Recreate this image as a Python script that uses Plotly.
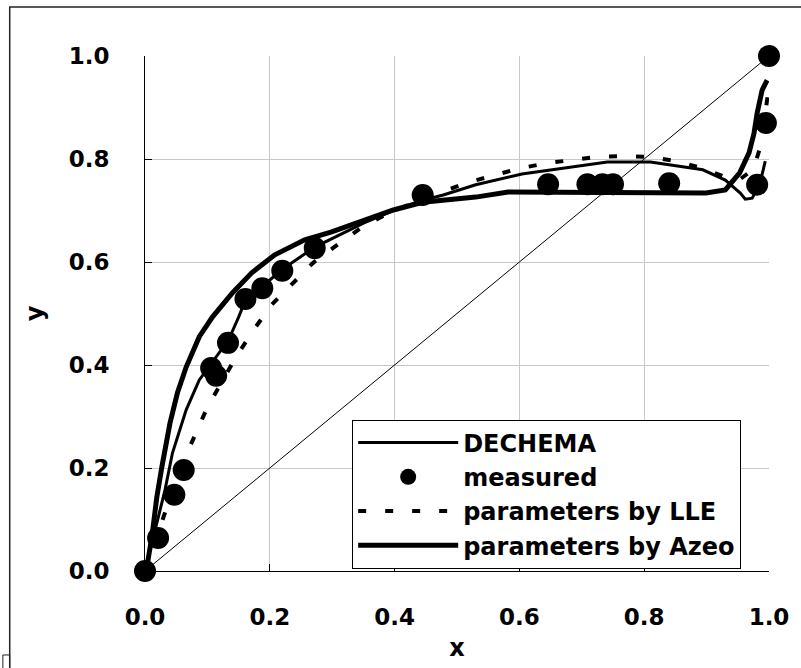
import plotly.graph_objects as go

# Diagonal reference line y = x
diag_x = [0.0, 1.0]
diag_y = [0.0, 1.0]

# Model curve from the DECHEMA parameter set
dechema_x = [0, 0.016, 0.032, 0.044, 0.066, 0.087, 0.111, 0.134, 0.150, 0.161, 0.187, 0.218,
             0.272, 0.351, 0.398, 0.445, 0.478, 0.530, 0.604, 0.668, 0.741, 0.810, 0.862,
             0.894, 0.930, 0.954, 0.962, 0.973, 0.985, 0.994]
dechema_y = [0, 0.080, 0.157, 0.229, 0.313, 0.371, 0.410, 0.449, 0.493, 0.526, 0.551, 0.584,
             0.629, 0.676, 0.700, 0.720, 0.730, 0.750, 0.771, 0.782, 0.794, 0.794, 0.784,
             0.779, 0.759, 0.734, 0.722, 0.724, 0.750, 0.796]

# Measured vapour-liquid equilibrium points
meas_x = [0.0, 0.021, 0.047, 0.062, 0.106, 0.114, 0.133, 0.161, 0.188, 0.220, 0.272,
          0.445, 0.646, 0.709, 0.733, 0.750, 0.840, 0.981, 0.995, 1.0]
meas_y = [0.0, 0.064, 0.148, 0.196, 0.394, 0.379, 0.443, 0.528, 0.549, 0.583, 0.627,
          0.730, 0.751, 0.751, 0.751, 0.751, 0.753, 0.750, 0.870, 1.0]

# Model curve with parameters fitted to LLE data
lle_x = [0, 0.015, 0.032, 0.055, 0.082, 0.100, 0.146, 0.174, 0.203, 0.240, 0.269, 0.312,
         0.353, 0.400, 0.475, 0.519, 0.559, 0.601, 0.644, 0.685, 0.725, 0.767, 0.807,
         0.851, 0.891, 0.930, 0.955, 0.975, 0.987, 0.998]
lle_y = [0, 0.055, 0.113, 0.195, 0.268, 0.318, 0.416, 0.468, 0.517, 0.561, 0.598, 0.637,
         0.672, 0.700, 0.736, 0.755, 0.769, 0.782, 0.792, 0.798, 0.804, 0.806, 0.804,
         0.796, 0.783, 0.765, 0.762, 0.780, 0.827, 0.924]

# Model curve with parameters fitted to azeotrope data
azeo_x = [0, 0.003, 0.011, 0.019, 0.027, 0.040, 0.052, 0.066, 0.087, 0.108, 0.140, 0.171,
          0.208, 0.256, 0.298, 0.351, 0.398, 0.445, 0.530, 0.582, 0.688, 0.820, 0.899,
          0.930, 0.953, 0.968, 0.976, 0.981, 0.989, 0.997]
azeo_y = [0, 0.008, 0.066, 0.144, 0.202, 0.287, 0.346, 0.396, 0.455, 0.493, 0.540, 0.579,
          0.614, 0.643, 0.658, 0.682, 0.701, 0.716, 0.726, 0.736, 0.736, 0.734, 0.734,
          0.740, 0.773, 0.812, 0.850, 0.889, 0.934, 0.953]

tick_vals = [0.0, 0.2, 0.4, 0.6, 0.8, 1.0]
tick_text = ["0.0", "0.2", "0.4", "0.6", "0.8", "1.0"]

FONT = "DejaVu Sans"

fig = go.Figure()
fig.add_trace(go.Scatter(x=diag_x, y=diag_y, mode="lines", showlegend=False,
                         line=dict(color="black", width=1), hoverinfo="skip"))
fig.add_trace(go.Scatter(x=dechema_x, y=dechema_y, mode="lines", name="DECHEMA",
                         line=dict(color="black", width=3)))
fig.add_trace(go.Scatter(x=meas_x, y=meas_y, mode="markers", name="measured",
                         marker=dict(color="black", size=22), cliponaxis=False))
fig.add_trace(go.Scatter(x=lle_x, y=lle_y, mode="lines", name="parameters by LLE",
                         line=dict(color="black", width=4, dash="8px,19px")))
fig.add_trace(go.Scatter(x=azeo_x, y=azeo_y, mode="lines", name="parameters by Azeo",
                         line=dict(color="black", width=5)))

axis_common = dict(
    range=[0, 1], tickvals=tick_vals, ticktext=tick_text,
    showgrid=True, gridcolor="#c8c8c8", gridwidth=1,
    showline=True, linecolor="black", linewidth=1, mirror=False,
    ticks="inside", ticklen=7, tickcolor="black", tickwidth=1,
    zeroline=False,
    tickfont=dict(family=FONT, size=23, color="black", weight="bold"),
)

fig.update_xaxes(**axis_common, ticklabelstandoff=25,
                 title=dict(text="x", standoff=10,
                            font=dict(family=FONT, size=24, color="black", weight="bold")))
fig.update_yaxes(**axis_common, ticklabelstandoff=30,
                 title=dict(text="y", standoff=18,
                            font=dict(family=FONT, size=24, color="black", weight="bold")))

# Outer chart-area frame and the small corner box
fig.add_shape(type="rect", xref="paper", yref="paper",
              x0=-0.2168, x1=1.2, y0=-0.35, y1=1.0951,
              line=dict(color="#222222", width=1.5), layer="below")
fig.add_shape(type="rect", xref="paper", yref="paper",
              x0=-0.2278, x1=-0.2168, y0=-0.1631, y1=-0.25,
              line=dict(color="#222222", width=1), layer="below")

fig.update_layout(
    width=801, height=668, autosize=False,
    margin=dict(l=145, r=24, t=56, b=97),
    plot_bgcolor="white", paper_bgcolor="white",
    legend=dict(
        x=0.332, y=0.1495, xanchor="left", yanchor="middle",
        bgcolor="white", bordercolor="black", borderwidth=1,
        itemwidth=100,
        font=dict(family=FONT, size=24, color="black", weight="bold"),
    ),
)

fig.write_html("out.html")
